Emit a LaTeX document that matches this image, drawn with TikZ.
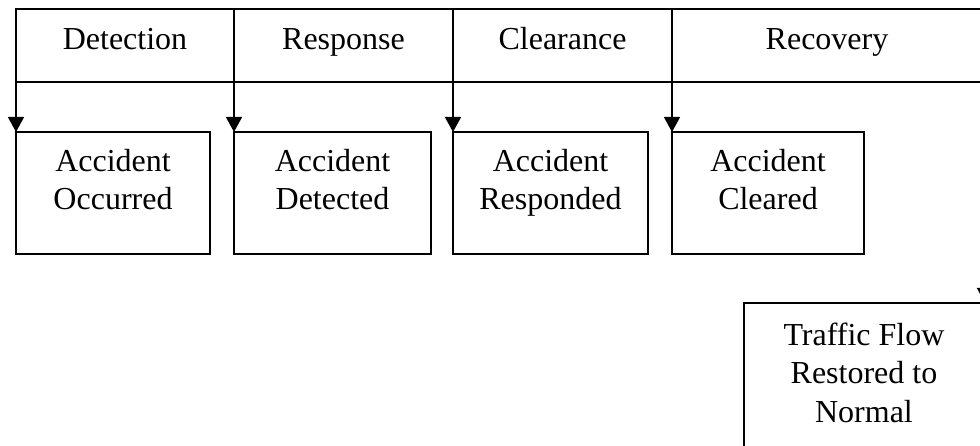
\documentclass[tikz,border=0pt]{standalone}
\usepackage{fontspec}
\setmainfont{Liberation Serif}
\usetikzlibrary{arrows.meta}

\tikzset{
  seg/.style={draw, line width=2pt, minimum height=73pt, text height=21pt,
    text depth=12pt, inner sep=0pt, outer sep=0pt, anchor=north west,
    font=\fontsize{32}{38}\selectfont},
  stagebox/.style={draw, line width=1.6pt, minimum width=194pt,
    minimum height=122pt, inner sep=0pt, outer sep=0pt, anchor=north west},
  txt/.style={inner sep=0pt, anchor=base, font=\fontsize{32}{37.5}\selectfont},
  arr/.style={line width=1.5pt, -{Triangle[width=16pt,length=15pt]}}
}

\begin{document}
\begin{tikzpicture}[x=1pt, y=-1pt]
  \useasboundingbox (0,0) rectangle (980,446);
  \clip (0,0) rectangle (980,446);

  % phase bar
  \node[seg, minimum width=218pt] (det) at (16,9)  {Detection};
  \node[seg, minimum width=219pt] (res) at (234,9) {Response};
  \node[seg, minimum width=219pt] (clr) at (453,9) {Clearance};
  \node[seg, minimum width=310pt] (rec) at (672,9) {Recovery};

  % event boxes
  \node[stagebox] (occ) at (16,132)  {};
  \node[stagebox, minimum width=197pt] (dtd) at (234,132) {};
  \node[stagebox, minimum width=195pt] (rsp) at (453,132) {};
  \node[stagebox, minimum width=192pt] (clrd) at (672,132) {};
  \node[stagebox, minimum width=260pt, minimum height=200pt] (norm) at (744,303) {};

  % box texts
  \node[txt] (occT)  at (113,172)   {\begin{tabular}[t]{@{}c@{}}Accident\\Occurred\end{tabular}};
  \node[txt] (dtdT)  at (332.5,172) {\begin{tabular}[t]{@{}c@{}}Accident\\Detected\end{tabular}};
  \node[txt] (rspT)  at (550.5,172) {\begin{tabular}[t]{@{}c@{}}Accident\\Responded\end{tabular}};
  \node[txt] (clrdT) at (768,172)   {\begin{tabular}[t]{@{}c@{}}Accident\\Cleared\end{tabular}};
  \node[txt, font=\fontsize{32}{38.5}\selectfont] (normT) at (864,345)
    {\begin{tabular}[t]{@{}c@{}}Traffic Flow\\Restored to\\Normal\end{tabular}};

  % connectors from the phase bar down to the events
  \coordinate (recEnd) at (985,82);
  \draw[arr] (det.south west) -- (occ.north west);
  \draw[arr] (res.south west) -- (dtd.north west);
  \draw[arr] (clr.south west) -- (rsp.north west);
  \draw[arr] (rec.south west) -- (clrd.north west);
  \draw[arr] (recEnd) -- (recEnd |- norm.north);
\end{tikzpicture}
\end{document}
